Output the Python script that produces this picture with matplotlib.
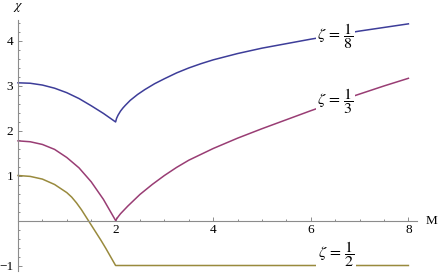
import matplotlib
matplotlib.use("Agg")
import matplotlib.pyplot as plt
import numpy as np

plt.rcParams['font.family'] = ['Liberation Serif', 'DejaVu Serif']
plt.rcParams['mathtext.fontset'] = 'stix'

# Read values
x_blue = [0, 0.25, 0.5, 0.75, 1.0, 1.25, 1.5, 1.75, 2.0,
          2.02, 2.05, 2.1, 2.15, 2.2, 2.3, 2.45, 2.6, 2.8, 3.0, 3.25, 3.5, 3.75, 4.0,
          4.5, 5.0, 5.5, 6.0, 6.5, 7.0, 7.5, 8.0]
y_blue = [3.06, 3.05, 3.01, 2.94, 2.84, 2.71, 2.55, 2.38, 2.19,
          2.27, 2.34, 2.43, 2.50, 2.56, 2.67, 2.80, 2.91, 3.04, 3.15, 3.28, 3.39, 3.485, 3.57,
          3.71, 3.83, 3.93, 4.03, 4.12, 4.21, 4.29, 4.37]

x_purple = [0, 0.25, 0.5, 0.75, 1.0, 1.25, 1.5, 1.75, 2.0,
            2.05, 2.1, 2.25, 2.5, 2.75, 3.0, 3.25, 3.5, 3.75, 4.0, 4.5, 5.0, 5.5, 6.0,
            6.5, 7.0, 7.5, 8.0]
y_purple = [1.77, 1.75, 1.69, 1.58, 1.40, 1.17, 0.86, 0.47, 0.0,
            0.08, 0.15, 0.32, 0.58, 0.80, 1.00, 1.18, 1.34, 1.47, 1.60, 1.83, 2.04, 2.24, 2.44,
            2.63, 2.81, 2.99, 3.16]

x_gold = [0, 0.25, 0.5, 0.75, 1.0, 1.1, 1.2, 1.3, 1.4, 1.5, 1.6, 1.7, 1.8, 1.9, 2.0, 8.0]
y_gold = [1.0, 0.98, 0.92, 0.80, 0.62, 0.52, 0.39, 0.24, 0.07, -0.10, -0.27, -0.44,
          -0.62, -0.81, -1.0, -1.0]

labels = [r'$\zeta\,=\,\dfrac{1}{8}$', r'$\zeta\,=\,\dfrac{1}{3}$', r'$\zeta\,=\,\dfrac{1}{2}$']
label_x = [6.51, 6.51, 6.52]
label_y = [4.11, 2.66, -0.75]

colors = ['#3d3d99', '#993d74', '#998a3d']

fig = plt.figure(figsize=(4.38, 2.73), dpi=100)
ax = fig.add_axes([0, 0, 1, 1])
ax.set_xlim((0 - 18) / 48.8, (438 - 18) / 48.8)
ax.set_ylim((220.5 - 273) / 45, 220.5 / 45)
ax.patch.set_visible(False)

for xs, ys, c in zip([x_blue, x_purple, x_gold], [y_blue, y_purple, y_gold], colors):
    ax.plot(xs, ys, color=c, lw=1.1, zorder=2)

for t, lx, ly in zip(labels, label_x, label_y):
    ax.text(lx, ly, t, ha='center', va='center', fontsize=11.5, zorder=3,
            bbox=dict(facecolor='white', edgecolor='none', pad=1.0))

axcol = '#8c8c8c'
for s in ['top', 'right']:
    ax.spines[s].set_visible(False)
ax.spines['left'].set_position(('data', 0))
ax.spines['bottom'].set_position(('data', 0))
ax.spines['left'].set_bounds(-1.12, 4.46)
ax.spines['bottom'].set_bounds(0, 8.18)
for s in ['left', 'bottom']:
    ax.spines[s].set_color(axcol)
    ax.spines[s].set_linewidth(0.8)

ax.set_xticks([2, 4, 6, 8])
ax.set_xticks(np.arange(0.5, 8.01, 0.5), minor=True)
ax.set_yticks([-1, 1, 2, 3, 4])
ax.set_yticklabels(['\u22121', '1', '2', '3', '4'])
ax.set_yticks(np.arange(-1.0, 4.41, 0.2), minor=True)
ax.tick_params(which='both', direction='in', color=axcol, labelsize=9.5, labelcolor='black', width=0.7)
ax.tick_params(which='major', length=3.0)
ax.tick_params(which='minor', length=1.6)
ax.tick_params(axis='x', pad=2.5)
ax.tick_params(axis='y', pad=3.5)

ax.text(0.01, 4.74, r'$\chi$', ha='center', va='center', fontsize=10)
ax.text(8.47, 0.0, 'M', ha='center', va='center', fontsize=9.5)

fig.savefig('out.png', dpi=100)
